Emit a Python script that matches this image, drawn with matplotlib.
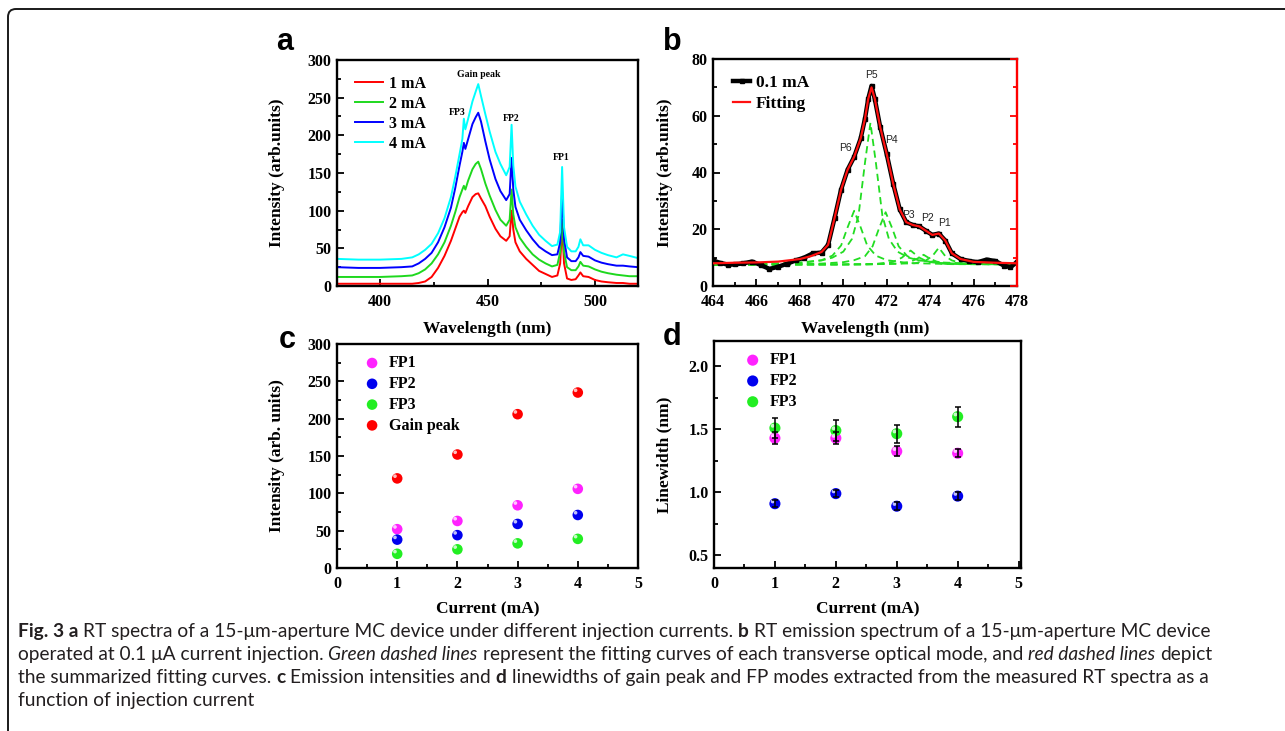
import matplotlib
matplotlib.use("Agg")
import matplotlib.pyplot as plt
from matplotlib.ticker import MultipleLocator
from matplotlib import transforms, font_manager
from matplotlib.patches import FancyBboxPatch

# ---- panel a: RT spectra at different currents ----
wl_a = [380, 390, 400, 410, 415, 418, 421, 424, 427, 430, 433, 435, 437, 438.3, 439, 439.7,
        441, 443, 444.5, 445.7, 447, 449, 451, 453.7, 456, 458.7, 460.3, 461.2, 462, 463,
        465, 468, 471, 474, 477, 480, 482.5, 483.8, 484.7, 485.6, 487, 489, 491, 492.3,
        493.2, 494.5, 497, 500, 503, 506, 510, 513, 516, 520]
int_1mA = [3, 3, 3, 3, 3, 4, 6, 12, 24, 40, 60, 76, 92, 98, 100, 97,
           106, 118, 122, 123, 116, 106, 92, 76, 66, 60, 66, 100, 75, 58,
           46, 36, 28, 20, 16, 12, 14, 30, 80, 30, 10, 8, 9, 14,
           18, 13, 12, 8, 6, 5, 4, 4, 3, 3]
int_2mA = [12, 12, 12, 13, 14, 17, 22, 30, 42, 58, 80, 98, 118, 128, 133, 128,
           140, 155, 162, 165, 155, 136, 120, 101, 88, 80, 88, 128, 95, 78,
           64, 52, 42, 35, 30, 26, 28, 45, 88, 45, 25, 21, 21, 26,
           32, 27, 26, 22, 19, 17, 15, 14, 13, 13]
int_3mA = [25, 24, 24, 25, 26, 30, 36, 44, 58, 78, 104, 130, 160, 178, 190, 182,
           195, 215, 224, 230, 218, 192, 168, 142, 126, 114, 122, 170, 128, 105,
           88, 74, 62, 52, 46, 41, 42, 58, 125, 62, 38, 33, 33, 38,
           45, 40, 39, 34, 31, 29, 27, 27, 26, 25]
int_4mA = [36, 35, 35, 36, 38, 42, 48, 56, 70, 90, 118, 145, 175, 195, 222, 208,
           222, 245, 258, 268, 252, 228, 205, 178, 162, 147, 158, 214, 160, 132,
           112, 95, 80, 68, 60, 53, 55, 72, 158, 78, 52, 46, 46, 52,
           62, 54, 54, 48, 44, 41, 38, 42, 40, 37]
currents_a = ["1 mA", "2 mA", "3 mA", "4 mA"]
colors_a = ["#ff0000", "#1ed81e", "#0000ff", "#00ffff"]

# ---- panel b: 0.1 mA spectrum and fitting ----
wl_b = [464.0, 464.3, 464.7, 465.0, 465.4, 465.8, 466.2, 466.6, 467.0, 467.4, 467.8, 468.2,
        468.6, 469.0, 469.3, 469.6, 469.9, 470.2, 470.5, 470.8, 471.0, 471.15, 471.3, 471.45,
        471.7, 472.0, 472.3, 472.6, 472.9, 473.2, 473.5, 473.8, 474.1, 474.4, 474.7, 475.0,
        475.4, 475.8, 476.2, 476.6, 477.0, 477.4, 477.7, 478.0]
int_b = [9.0, 8.2, 7.5, 7.6, 8.0, 8.6, 7.4, 6.0, 6.8, 7.8, 9.0, 10.0,
         11.5, 11.8, 14.5, 24.0, 34.0, 41.0, 45.5, 52.0, 59.0, 66.0, 70.5, 66.0,
         56.0, 46.5, 36.0, 27.0, 22.5, 21.5, 21.0, 19.5, 18.0, 18.5, 16.0, 11.5,
         9.5, 8.8, 8.4, 9.3, 8.8, 7.2, 6.6, 8.5]
wl_fit = [464, 465, 466, 467, 468, 468.5, 469, 469.3, 469.6, 469.9, 470.2, 470.5, 470.8,
          471.0, 471.15, 471.3, 471.45, 471.7, 472.0, 472.3, 472.6, 472.9, 473.2, 473.5,
          473.8, 474.1, 474.4, 474.7, 475.0, 475.4, 476, 477, 478]
int_fit = [8.0, 8.2, 8.3, 8.6, 9.5, 10.5, 12.0, 14.5, 24.0, 34.0, 41.0, 45.5, 52.0,
           59.0, 66.0, 70.0, 66.0, 56.0, 46.5, 36.0, 27.0, 22.5, 21.5, 21.0,
           19.5, 18.0, 18.5, 16.0, 11.5, 9.5, 8.5, 8.2, 8.0]
# transverse-mode components (green dashed)
p6_x = [464, 466, 468, 469, 469.5, 469.9, 470.2, 470.5, 470.8, 471.1, 471.5, 472, 473, 475, 478]
p6_y = [7.6, 7.7, 8.1, 9.1, 10.7, 14.3, 20.7, 26.5, 20.7, 14.3, 10.7, 9.1, 8.1, 7.7, 7.6]
p5_x = [464, 467, 468, 469, 469.5, 470, 470.4, 470.7, 471, 471.25, 471.5, 471.8, 472.1,
        472.5, 473, 473.5, 474.5, 476, 478]
p5_y = [7.6, 7.9, 8.3, 9.0, 10.0, 12.1, 16.6, 24.8, 43.5, 57.5, 43.5, 24.8, 16.6,
        12.1, 10.0, 9.0, 8.3, 7.9, 7.7]
p4_x = [464, 466, 469, 470, 470.5, 471, 471.35, 471.65, 471.95, 472.25, 472.55, 472.95,
        473.45, 474.5, 476, 478]
p4_y = [7.5, 7.6, 7.9, 8.4, 9.1, 10.5, 14.0, 20.4, 26.0, 20.4, 14.0, 10.5,
        9.1, 8.1, 7.7, 7.6]
p3_x = [464, 470, 471.5, 472.3, 472.7, 473.1, 473.5, 473.9, 474.7, 478]
p3_y = [7.5, 7.6, 7.8, 8.5, 10.0, 12.5, 10.0, 8.5, 7.8, 7.6]
p2_x = [464, 471, 472.6, 473.1, 473.4, 473.7, 474.0, 474.3, 474.8, 478]
p2_y = [7.5, 7.6, 7.9, 8.6, 9.6, 11.0, 9.6, 8.6, 7.9, 7.6]
p1_x = [464, 471, 473.3, 473.8, 474.1, 474.4, 474.7, 475.0, 475.5, 478]
p1_y = [7.5, 7.6, 8.0, 9.0, 10.5, 13.5, 10.5, 9.0, 8.0, 7.6]
peak_names = ["P1", "P2", "P3", "P4", "P5", "P6"]
peak_label_x = [474.64, 473.86, 472.98, 472.23, 471.28, 470.08]
peak_label_y = [22.2, 24.0, 25.0, 51.5, 74.4, 48.6]

# ---- panel c: intensities vs current ----
current = [1, 2, 3, 4]
int_fp1 = [52, 63, 84, 106]
int_fp2 = [38, 44, 59, 71]
int_fp3 = [19, 25, 33, 39]
int_gain = [120, 152, 206, 235]

# ---- panel d: linewidths vs current ----
lw_fp1 = [1.43, 1.43, 1.325, 1.31]
lw_fp1_err = [0.05, 0.05, 0.04, 0.03]
lw_fp2 = [0.91, 0.99, 0.89, 0.97]
lw_fp2_err = [0.03, 0.03, 0.03, 0.03]
lw_fp3 = [1.51, 1.49, 1.465, 1.60]
lw_fp3_err = [0.08, 0.08, 0.07, 0.08]

caption = [
    [("Fig. 3 a", "b"), ("RT spectra of a 15-\u03bcm-aperture MC device under different injection currents.", "n"),
     ("b", "b"), ("RT emission spectrum of a 15-\u03bcm-aperture MC device", "n")],
    [("operated at 0.1 \u03bcA current injection.", "n"), ("Green dashed lines", "i"),
     ("represent the fitting curves of each transverse optical mode, and", "n"),
     ("red dashed lines", "i"), ("depict", "n")],
    [("the summarized fitting curves.", "n"), ("c", "b"), ("Emission intensities and", "n"),
     ("d", "b"), ("linewidths of gain peak and FP modes extracted from the measured RT spectra as a", "n")],
    [("function of injection current", "n")],
]
caption_widths = [1167, 1210, 1214]   # pixel widths of the first three lines in the reference

plt.rcParams["font.family"] = ["Liberation Serif", "DejaVu Sans"]
plt.rcParams["font.weight"] = "bold"
plt.rcParams["axes.labelweight"] = "bold"

W, H = 1285, 731
fig = plt.figure(figsize=(W / 100, H / 100), dpi=100)


def px_axes(left, top, right, bottom):
    return fig.add_axes([left / W, 1 - bottom / H, (right - left) / W, (bottom - top) / H])


def style(ax, xmaj, xmin, ymaj, ymin):
    for s in ax.spines.values():
        s.set_linewidth(1.7)
    ax.xaxis.set_major_locator(MultipleLocator(xmaj))
    ax.xaxis.set_minor_locator(MultipleLocator(xmin))
    ax.yaxis.set_major_locator(MultipleLocator(ymaj))
    ax.yaxis.set_minor_locator(MultipleLocator(ymin))
    ax.tick_params(which="both", direction="in", width=1.3, labelsize=11.5)
    ax.tick_params(axis="y", pad=4)
    ax.tick_params(axis="x", pad=5.5)
    ax.tick_params(which="major", length=5)
    ax.tick_params(which="minor", length=3)


def panel_letter(x, y, s):
    fig.text(x / W, 1 - y / H, s, fontsize=22, fontweight="bold", family="Liberation Sans",
             ha="center", va="center")


def balls(ax, x, y, color, label, size=58):
    ax.scatter(x, y, s=size, color=color, edgecolors="none", zorder=3, label=label)
    # small shine on each ball
    off = transforms.offset_copy(ax.transData, fig=fig, x=-1.6, y=1.6, units="points")
    ax.scatter(x, y, s=size * 0.12, color="white", alpha=0.75, edgecolors="none",
               zorder=4, transform=off)


# ---------- a ----------
ax_a = px_axes(337, 60, 638, 286)
series_a = [int_1mA, int_2mA, int_3mA, int_4mA]
for vals, col, lab in zip(series_a, colors_a, currents_a):
    ax_a.plot(wl_a, vals, color=col, lw=1.4, label=lab)
ax_a.set_xlim(380, 520)
ax_a.set_ylim(0, 300)
style(ax_a, 50, 25, 50, 25)
ax_a.set_xlabel("Wavelength (nm)", fontsize=12.5)
ax_a.set_ylabel("Intensity (arb.units)", fontsize=12.5)
ax_a.xaxis.set_label_coords(0.5, -0.155)
ax_a.yaxis.set_label_coords(-0.173, 0.5)
ax_a.legend(loc="upper left", bbox_to_anchor=(0.06, 0.93), frameon=False, fontsize=11.5,
            handlelength=1.75, handletextpad=0.35, labelspacing=0.25, borderpad=0,
            borderaxespad=0)
ax_a.text(446, 281, "Gain peak", fontsize=7, ha="center", va="center")
ax_a.text(435.7, 230, "FP3", fontsize=7, ha="center", va="center")
ax_a.text(461, 223, "FP2", fontsize=7, ha="center", va="center")
ax_a.text(484.5, 170, "FP1", fontsize=7, ha="center", va="center")
panel_letter(285, 42, "a")

# ---------- b ----------
ax_b = px_axes(713, 59, 1017, 286)
for cx, cy in [(p6_x, p6_y), (p5_x, p5_y), (p4_x, p4_y), (p3_x, p3_y), (p2_x, p2_y), (p1_x, p1_y)]:
    ax_b.plot(cx, cy, color="#22dd22", lw=1.3, ls=(0, (4, 2.5)), zorder=2)
ax_b.plot(wl_b, int_b, color="black", lw=3.2, marker="s", ms=2.5, zorder=3, label="0.1 mA")
ax_b.plot(wl_fit, int_fit, color="#ff1010", lw=1.6, zorder=4, label="Fitting")
ax_b.set_xlim(464, 478)
ax_b.set_ylim(0, 80)
style(ax_b, 2, 1, 20, 10)
ax_b.spines["right"].set_visible(False)
ax_b.set_xlabel("Wavelength (nm)", fontsize=12.5)
ax_b.set_ylabel("Intensity (arb.units)", fontsize=12.5)
ax_b.xaxis.set_label_coords(0.5, -0.155)
ax_b.yaxis.set_label_coords(-0.132, 0.5)
for name, lx, ly in zip(peak_names, peak_label_x, peak_label_y):
    ax_b.text(lx, ly, name, fontsize=7.5, family="Liberation Sans", fontweight="normal",
              color="#222222", ha="center", va="center")
ax_b.legend(loc="upper left", bbox_to_anchor=(0.066, 0.93), frameon=False, fontsize=12.5,
            handlelength=1.0, handletextpad=0.3, labelspacing=0.3, borderpad=0,
            borderaxespad=0, markerscale=1.4)
ax_b2 = ax_b.twinx()
ax_b2.set_ylim(0, 80)
ax_b2.yaxis.set_major_locator(MultipleLocator(20))
ax_b2.yaxis.set_minor_locator(MultipleLocator(10))
ax_b2.tick_params(which="both", direction="in", colors="red", labelright=False, width=1.3)
ax_b2.tick_params(which="major", length=5)
ax_b2.tick_params(which="minor", length=3)
for side in ["left", "top", "bottom"]:
    ax_b2.spines[side].set_visible(False)
ax_b2.spines["right"].set_color("red")
ax_b2.spines["right"].set_linewidth(1.7)
panel_letter(672, 42, "b")

# ---------- c ----------
ax_c = px_axes(337, 344, 638, 568)
balls(ax_c, current, int_fp1, "#ff22ff", "FP1")
balls(ax_c, current, int_fp2, "#0000ee", "FP2")
balls(ax_c, current, int_fp3, "#22ee22", "FP3")
balls(ax_c, current, int_gain, "#ff0000", "Gain peak")
ax_c.set_xlim(0, 5)
ax_c.set_ylim(0, 300)
style(ax_c, 1, 0.5, 50, 25)
ax_c.set_xlabel("Current (mA)", fontsize=12.5)
ax_c.set_ylabel("Intensity (arb. units)", fontsize=12.5)
ax_c.xaxis.set_label_coords(0.5, -0.147)
ax_c.yaxis.set_label_coords(-0.173, 0.5)
ax_c.legend(loc="upper left", bbox_to_anchor=(0.09, 0.95), frameon=False, fontsize=11.5,
            handlelength=1.0, handletextpad=0.55, labelspacing=0.3, borderpad=0,
            borderaxespad=0, scatterpoints=1)
panel_letter(287, 340, "c")

# ---------- d ----------
ax_d = px_axes(714, 341, 1021, 568)
balls(ax_d, current, lw_fp1, "#ff22ff", "FP1", 64)
balls(ax_d, current, lw_fp2, "#0000ee", "FP2", 64)
balls(ax_d, current, lw_fp3, "#22ee22", "FP3", 64)
for yv, ye in [(lw_fp1, lw_fp1_err), (lw_fp2, lw_fp2_err), (lw_fp3, lw_fp3_err)]:
    ax_d.errorbar(current, yv, yerr=ye, fmt="none", ecolor="black", elinewidth=1.1,
                  capsize=2, capthick=1.1, zorder=5)
ax_d.set_xlim(0, 5.04)
ax_d.set_ylim(0.4, 2.2)
style(ax_d, 1, 0.5, 0.5, 0.25)
ax_d.set_xlabel("Current (mA)", fontsize=12.5)
ax_d.set_ylabel("Linewidth (nm)", fontsize=12.5)
ax_d.xaxis.set_label_coords(0.5, -0.147)
ax_d.yaxis.set_label_coords(-0.134, 0.5)
ax_d.legend(loc="upper left", bbox_to_anchor=(0.10, 0.95), frameon=False, fontsize=11.5,
            handlelength=1.0, handletextpad=0.55, labelspacing=0.3, borderpad=0,
            borderaxespad=0, scatterpoints=1)
panel_letter(672, 337, "d")

# ---------- frame round the figure ----------
frame = FancyBboxPatch((8, -60), 1400, H - 9 + 60, boxstyle="round,pad=0,rounding_size=8",
                       transform=transforms.IdentityTransform(), fill=False, lw=1.4,
                       ec="#1a1a1a")
fig.add_artist(frame)

# ---------- caption ----------
def has_font(name):
    try:
        font_manager.findfont(font_manager.FontProperties(family=name), fallback_to_default=False)
        return True
    except Exception:
        return False


cap_family = "Lato" if has_font("Lato") else "Liberation Sans"
renderer = fig.canvas.get_renderer()
ident = transforms.IdentityTransform()


def seg_kw(kind, size):
    return dict(fontsize=size, family=cap_family, color="#231f20",
                fontweight="bold" if kind == "b" else "normal",
                fontstyle="italic" if kind == "i" else "normal")


def measure(s, kind, size):
    t = fig.text(0, 0, s, transform=ident, **seg_kw(kind, size))
    w = t.get_window_extent(renderer).width
    t.remove()
    return w


def line_width(parts, size):
    sp = measure("x x", "n", size) - measure("xx", "n", size)
    return sum(measure(s, k, size) for s, k in parts) + sp * (len(parts) - 1)


# fit the caption size to the widths the reference uses
test = 10.0
measured = sum(line_width(caption[i], test) for i in range(3))
cap_size = test * sum(caption_widths) / measured
space = measure("x x", "n", cap_size) - measure("xx", "n", cap_size)
for i, parts in enumerate(caption):
    x = 18
    y = H - (637 + 23 * i)
    for s, k in parts:
        t = fig.text(x, y, s, transform=ident, va="baseline", **seg_kw(k, cap_size))
        x += t.get_window_extent(renderer).width + space

fig.savefig("out.png", dpi=100)
